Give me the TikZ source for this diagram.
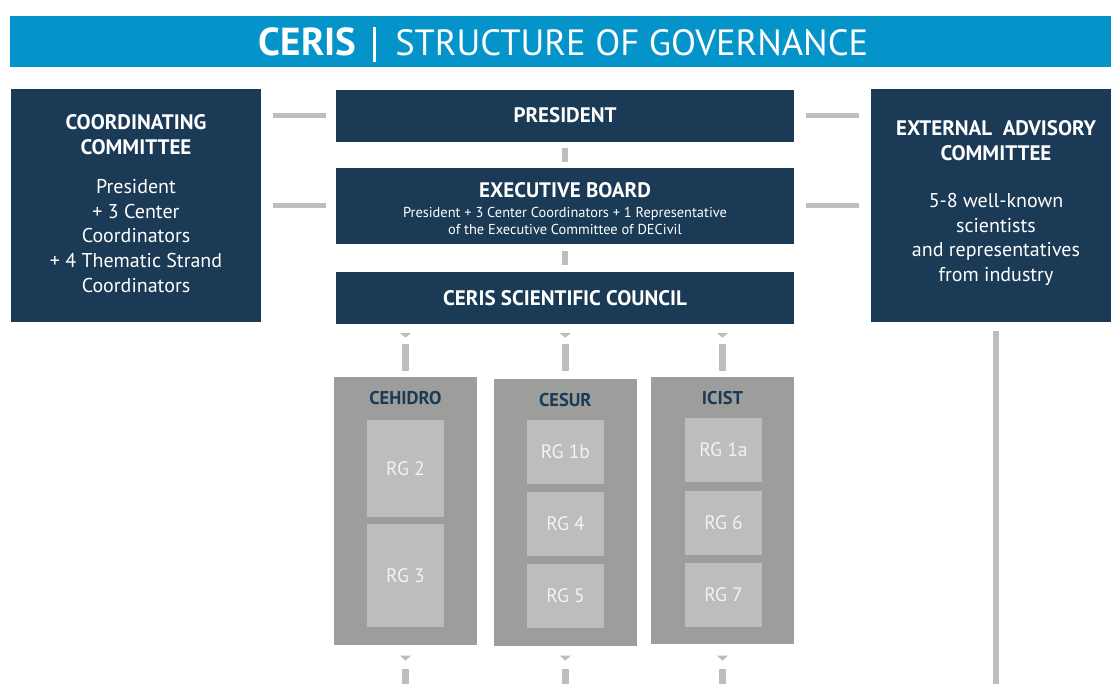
\documentclass[tikz,border=0pt]{standalone}
\usepackage{fontspec}
\setmainfont{PT Sans}
\usetikzlibrary{calc}

\definecolor{navy}{HTML}{1A3A55}
\definecolor{titleblue}{HTML}{0594C9}
\definecolor{outergray}{HTML}{9D9D9C}
\definecolor{innergray}{HTML}{BDBDBC}
\definecolor{linkgray}{HTML}{BEBEBE}
\definecolor{rgtext}{HTML}{F3F3F3}

\begin{document}
\begin{tikzpicture}[x=1pt,y=-1pt,
  panel/.style={fill=navy, draw=none, inner sep=0pt},
  center/.style={fill=outergray, draw=none, inner sep=0pt, minimum width=143pt},
  rg/.style={fill=innergray, draw=none, inner sep=0pt, minimum width=77pt,
    text=rgtext, font=\fontsize{19.5}{21}\selectfont},
  boxtitle/.style={text=white, align=center, inner sep=0pt,
    font=\bfseries\fontsize{21}{25.5}\selectfont},
  boxbody/.style={text=white, align=center, inner sep=0pt,
    font=\fontsize{20}{24.6}\selectfont},
  centerlabel/.style={text=navy, inner sep=0pt,
    font=\bfseries\fontsize{18.5}{20}\selectfont},
  hlink/.style={draw=linkgray, line width=5pt},
  vlink/.style={draw=linkgray, line width=6.5pt},
  tip/.style={fill=linkgray, draw=none}]

\useasboundingbox (0,0) rectangle (1111,684);
\clip (0,0) rectangle (1111,684);

% heading band
\node[fill=titleblue, inner sep=0pt, minimum width=1111pt, minimum height=51pt]
  (band) at (565.5,41.5) {};
\node[text=white, inner sep=0pt] (title) at (563.5,45)
  {{\bfseries\fontsize{39}{40}\selectfont CERIS}\hspace{16.5pt}\rule[-7pt]{3pt}{35pt}\hspace{19.5pt}{\fontsize{36.5}{40}\selectfont STRUCTURE OF GOVERNANCE}};

% side committees
\node[panel, minimum width=250pt, minimum height=233pt] (coord) at (136,205.5) {};
\node[boxtitle] (coordtitle) at (136,134.5) {COORDINATING\\COMMITTEE};
\node[boxbody] (coordbody) at (136,236) {President\\+ 3 Center\\Coordinators\\+ 4 Thematic Strand\\Coordinators};

\node[panel, minimum width=250pt, minimum height=233pt] (ext) at (996,205.5) {};
\node[boxtitle] (exttitle) at (996,140.5) {EXTERNAL\ \ ADVISORY\\COMMITTEE};
\node[boxbody] (extbody) at (996,239.5) {5-8 well-known\\scientists\\and representatives\\from industry};

% central chain
\node[panel, minimum width=458pt, minimum height=52pt] (president) at (565,116) {};
\node[boxtitle] (prestitle) at (565,115.5) {PRESIDENT};

\node[panel, minimum width=458pt, minimum height=76pt] (exec) at (565,206) {};
\node[boxtitle] (exectitle) at (565,190) {EXECUTIVE BOARD};
\node[text=white, align=center, inner sep=0pt, font=\fontsize{14.4}{17}\selectfont]
  (execbody) at (565,221) {President + 3 Center Coordinators + 1 Representative\\of the Executive Committee of DECivil};

\node[panel, minimum width=458pt, minimum height=52pt] (council) at (565,298) {};
\node[boxtitle] (counciltitle) at (565,298.5) {CERIS SCIENTIFIC COUNCIL};

% research centres
\node[center, minimum height=267.5pt] (ceh) at (405.5,510.75) {};
\node[centerlabel] (cehlabel) at (405.5,398.5) {CEHIDRO};
\node[rg, minimum height=97pt] (rg2) at (405.5,468.5) {RG 2};
\node[rg, minimum height=103pt] (rg3) at (405.5,575.5) {RG 3};

\node[center, minimum height=267.5pt] (ces) at (565.3,512.4) {};
\node[centerlabel] (ceslabel) at (565.3,400.5) {CESUR};
\node[rg, minimum height=64pt] (rg1b) at (565.5,452) {RG 1b};
\node[rg, minimum height=64pt] (rg4) at (565.5,524) {RG 4};
\node[rg, minimum height=64pt] (rg5) at (565.5,596) {RG 5};

\node[center, minimum height=267.5pt] (ici) at (722.5,510.5) {};
\node[centerlabel] (icilabel) at (722.5,398.5) {ICIST};
\node[rg, minimum height=64pt] (rg1a) at (723.5,450) {RG 1a};
\node[rg, minimum height=64pt] (rg6) at (723.5,522.5) {RG 6};
\node[rg, minimum height=64pt] (rg7) at (723.5,595) {RG 7};

% open ends below
\coordinate (cehend) at ($(ceh.south)+(0,60)$);
\coordinate (cesend) at ($(ces.south)+(0,60)$);
\coordinate (iciend) at ($(ici.south)+(0,60)$);
\coordinate (extend) at ($(ext.south)+(0,400)$);

% horizontal links to the side committees
\draw[hlink, shorten <=12pt, shorten >=10pt] (coord.east |- president.center) -- (president.west);
\draw[hlink, shorten <=12pt, shorten >=10pt] (coord.east |- exec.center) -- (exec.west);
\draw[hlink, shorten <=12pt, shorten >=12pt] (president.east) -- (ext.west |- president.center);
\draw[hlink, shorten <=12pt, shorten >=12pt] (exec.east) -- (ext.west |- exec.center);

% vertical chain
\draw[vlink, shorten <=6pt, shorten >=6pt] (president.south) -- (exec.north);
\draw[vlink, shorten <=7pt, shorten >=7pt] (exec.south) -- (council.north);

% council to centres
\foreach \c/\s in {ceh/6, ces/7.7, ici/6}{
  \draw[vlink, shorten <=20pt, shorten >=\s pt] (council.south -| \c.north) -- (\c.north);
  \fill[tip] ($(council.south -| \c.north)+(-5.5,9)$) -- ++(11,0) -- ++(-5.5,4.5) -- cycle;
}

% centres continuing downwards
\foreach \c in {ceh, ces, ici}{
  \draw[vlink, shorten <=24.5pt] (ceh.south -| \c.south) -- (\c end);
  \fill[tip] ($(ceh.south -| \c.south)+(-5.5,11)$) -- ++(11,0) -- ++(-5.5,5) -- cycle;
}

% advisory committee line
\draw[vlink, shorten <=8.5pt] (ext.south) -- (extend);

\end{tikzpicture}
\end{document}
